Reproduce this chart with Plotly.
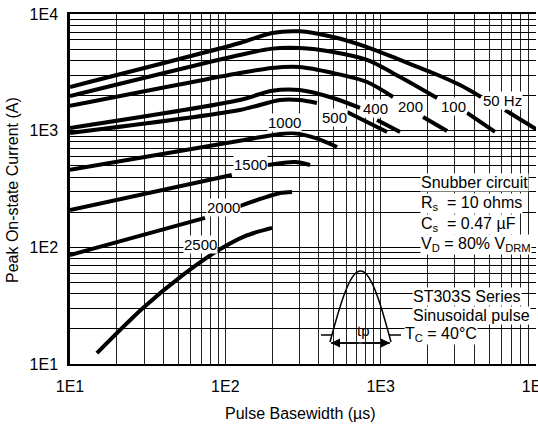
import numpy as np
import plotly.graph_objects as go

# Peak on-state current (A) vs. pulse basewidth (us), one curve per repetition
# frequency. None leaves a break where the curve's label sits.
hz50_x = [10, 124, 200, 300, 494, 817, 1334, 2174, 3243, 4430, None, 6320, 10000]
hz50_y = [2370, 5640, 6870, 7100, 6350, 5210, 4040, 3120, 2460, 1945, None, 1500, 1030]

hz100_x = [10, 124, 200, 300, 494, 817, 1334, 2306, None, 3600, 5450]
hz100_y = [1980, 4450, 5050, 5110, 4725, 4036, 2884, 1906, None, 1418, 975]

hz200_x = [10, 124, 200, 300, 494, 817, 1202, None, 1875, 2677]
hz200_y = [1630, 3120, 3450, 3510, 3120, 2614, 1945, None, 1310, 994]

hz400_x = [10, 124, 200, 300, 494, 736, None, 948, 1334]
hz400_y = [1055, 1832, 2200, 2232, 1906, 1565, None, 1235, 975]

hz500_x = [10, 124, 225, 300, 389, None, 607, 1100]
hz500_y = [956, 1504, 1832, 1832, 1727, None, 1446, 975]

hz1000_x = [10, 124, 270, 378, 524]
hz1000_y = [461, 820, 956, 866, 725]

hz1500_x = [10, 110, None, 188, 281, 351]
hz1500_y = [209, 417, None, 508, 539, 508]

hz2000_x = [10, 74, None, 124, 225, 269]
hz2000_y = [86, 179, None, 226, 292, 298]

hz2500_x = [14.9, 29.5, 53.4, 88.4, 134, 200]
hz2500_y = [12.4, 30.2, 58, 93, 125, 147]

curve_labels = ["50 Hz", "100", "200", "400", "500", "1000", "1500", "2000", "2500"]
label_x = [6060, 2925, 1545, 933, 501, 242, 146, 98, 68.7]
label_y = [1830, 1596, 1596, 1535, 1300, 1180, 508, 218, 105]

decade_vals = [10, 100, 1000, 10000]
decade_text = ["1E1", "1E2", "1E3", "1E4"]

# gridlines at every 1..9 step in each decade, labels only on decades
grid_vals = [m * d for d in [10, 100, 1000] for m in range(1, 10)] + [10000]
grid_text = [decade_text[decade_vals.index(v)] if v in decade_vals else "" for v in grid_vals]

FONT = "Liberation Sans, Arial, sans-serif"
W, H = 538, 438
L, R, T, B = 70, 2, 14, 74
PW, PH = W - L - R, H - T - B


def px(x):
    return (x - L) / PW


def py(y):
    return (H - B - y) / PH


fig = go.Figure()
series = [
    (hz50_x, hz50_y), (hz100_x, hz100_y), (hz200_x, hz200_y),
    (hz400_x, hz400_y), (hz500_x, hz500_y), (hz1000_x, hz1000_y),
    (hz1500_x, hz1500_y), (hz2000_x, hz2000_y), (hz2500_x, hz2500_y),
]
for xs, ys in series:
    fig.add_trace(go.Scatter(
        x=xs, y=ys, mode="lines", connectgaps=False,
        line=dict(color="black", width=4, shape="spline", smoothing=0.8),
        showlegend=False, hoverinfo="skip",
    ))

annotations = []
for txt, lx, ly in zip(curve_labels, label_x, label_y):
    annotations.append(dict(
        x=np.log10(lx), y=np.log10(ly), xref="x", yref="y", text=txt,
        xanchor="center", yanchor="middle",
        showarrow=False, font=dict(family=FONT, size=15, color="black"),
        bgcolor="white", borderpad=0,
    ))

# test-condition notes
notes = [
    ("Snubber circuit", 420, 182),
    ("R<sub>s</sub>  = 10 ohms", 420, 203),
    ("C<sub>s</sub>  = 0.47 µF", 420, 224),
    ("V<sub>D</sub> = 80% V<sub>DRM</sub>", 420, 245),
    ("ST303S Series", 412, 296),
    ("Sinusoidal pulse", 412, 315),
    ("T<sub>C</sub> = 40°C", 404, 334),
]
for txt, x, y in notes:
    annotations.append(dict(
        x=px(x), y=py(y), xref="paper", yref="paper", text=txt,
        xanchor="left", yanchor="middle", showarrow=False,
        font=dict(family=FONT, size=16, color="black"),
        bgcolor="white", borderpad=0,
    ))

# pulse sketch: half sine with base-width arrow
annotations.append(dict(x=px(363), y=py(330), xref="paper", yref="paper", text="tp",
                        xanchor="center", yanchor="middle",
                        showarrow=False, font=dict(family=FONT, size=15, color="black")))
for head, tail in [(331, 29), (390, -29)]:
    annotations.append(dict(
        x=px(head), y=py(343), xref="paper", yref="paper", text="",
        showarrow=True, ax=tail, ay=0, arrowhead=2, arrowsize=1.2,
        arrowwidth=1.5, arrowcolor="black",
    ))
# axis titles
annotations.append(dict(x=px(300), y=py(413), xref="paper", yref="paper",
                        xanchor="center", yanchor="middle",
                        text="Pulse Basewidth (µs)", showarrow=False,
                        font=dict(family=FONT, size=16, color="black")))
annotations.append(dict(x=px(12), y=py(190), xref="paper", yref="paper",
                        xanchor="center", yanchor="middle",
                        text="Peak On-state Current (A)", showarrow=False, textangle=-90,
                        font=dict(family=FONT, size=16, color="black")))

t = np.linspace(0, 1, 40)
sx = 330 + 61 * t
sy = 342 - 71 * np.sin(np.pi * t)
pulse_path = "M " + " L ".join(f"{px(a):.4f},{py(b):.4f}" for a, b in zip(sx, sy))

shapes = [
    dict(type="rect", xref="paper", yref="paper", x0=px(315), x1=px(406),
         y0=py(362), y1=py(272), fillcolor="white", line=dict(width=0), layer="between"),
    dict(type="rect", xref="paper", yref="paper", x0=px(406), x1=px(528),
         y0=py(347), y1=py(285), fillcolor="white", line=dict(width=0), layer="between"),
    dict(type="path", xref="paper", yref="paper", path=pulse_path,
         line=dict(color="black", width=1.5)),
    dict(type="line", xref="paper", yref="paper", x0=px(321), x1=px(332),
         y0=py(335), y1=py(335), line=dict(color="black", width=1.5)),
    dict(type="line", xref="paper", yref="paper", x0=px(389), x1=px(401),
         y0=py(335), y1=py(335), line=dict(color="black", width=1.5)),
    dict(type="line", xref="paper", yref="paper", x0=px(331), x1=px(390),
         y0=py(343), y1=py(343), line=dict(color="black", width=1.5)),
]

axis_common = dict(
    type="log", tickmode="array", tickvals=grid_vals, ticktext=grid_text,
    showgrid=True, ticks="", showline=True, linecolor="black",
    tickfont=dict(family=FONT, size=16, color="black"), zeroline=False,
    ticklabeloverflow="allow",
)
fig.update_layout(
    width=W, height=H, margin=dict(l=L, r=R, t=T, b=B, autoexpand=False),
    paper_bgcolor="white", plot_bgcolor="white",
    xaxis=dict(range=[1, 4], gridcolor="#222222", gridwidth=1, linewidth=2,
               mirror=True, ticklabelstandoff=7, **axis_common),
    yaxis=dict(range=[1, 4], gridcolor="black", gridwidth=1.4, linewidth=2.5,
               ticklabelstandoff=6, **axis_common),
    annotations=annotations, shapes=shapes, showlegend=False,
)

fig.write_html("out.html")
